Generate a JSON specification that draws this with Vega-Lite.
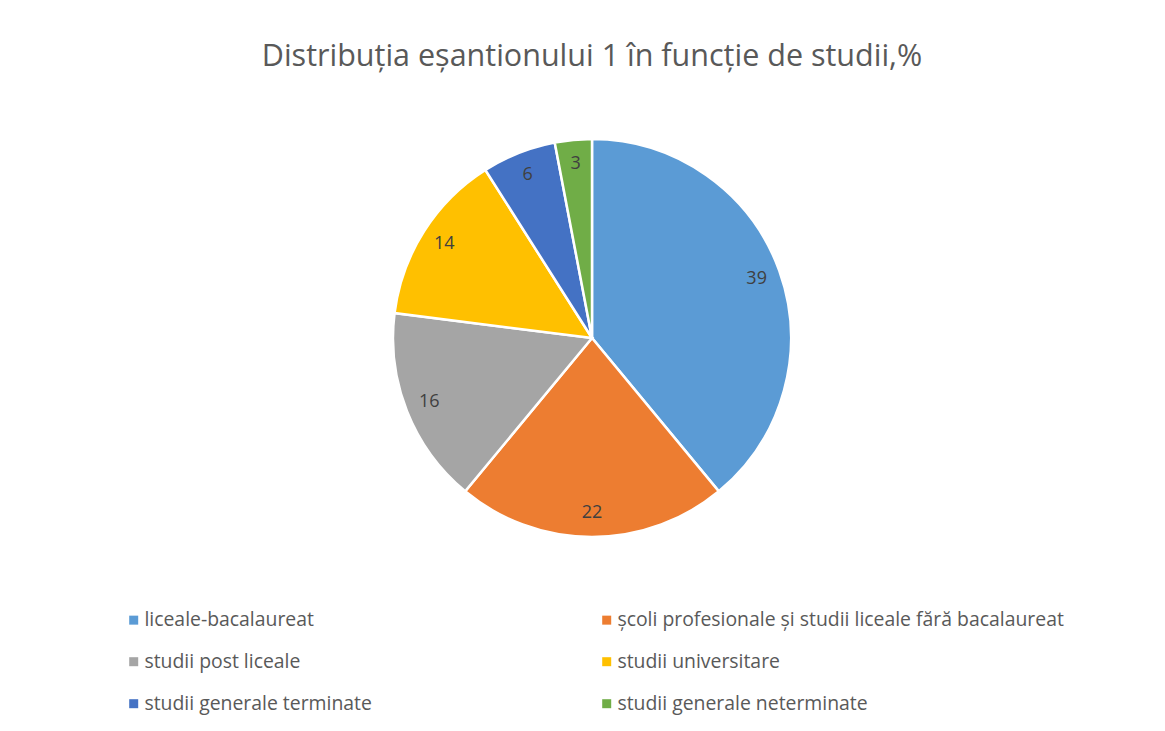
{
  "$schema": "https://vega.github.io/schema/vega-lite/v6.json",
  "width": 1146,
  "height": 676,
  "padding": {"left": 19, "top": 0, "right": 0, "bottom": 20},
  "autosize": {"type": "pad"},
  "background": "white",
  "title": {
    "text": "Distribuția eșantionului 1 în funcție de studii,%",
    "font": "Open Sans",
    "fontSize": 30.5,
    "fontWeight": "normal",
    "color": "#595959",
    "anchor": "middle",
    "offset": -72
  },
  "data": {
    "values": [
      {"category": "liceale-bacalaureat", "value": 39, "order": 1},
      {"category": "școli profesionale și studii liceale fără bacalaureat", "value": 22, "order": 2},
      {"category": "studii post liceale", "value": 16, "order": 3},
      {"category": "studii universitare", "value": 14, "order": 4},
      {"category": "studii generale terminate", "value": 6, "order": 5},
      {"category": "studii generale neterminate", "value": 3, "order": 6}
    ]
  },
  "encoding": {
    "theta": {"field": "value", "type": "quantitative", "stack": true},
    "order": {"field": "order", "type": "quantitative"},
    "color": {
      "field": "category",
      "type": "nominal",
      "scale": {
        "domain": ["liceale-bacalaureat", "școli profesionale și studii liceale fără bacalaureat", "studii post liceale", "studii universitare", "studii generale terminate", "studii generale neterminate"],
        "range": ["#5B9BD5", "#ED7D31", "#A5A5A5", "#FFC000", "#4472C4", "#70AD47"]
      },
      "sort": null,
      "legend": {
        "title": null,
        "orient": "none",
        "direction": "horizontal",
        "legendX": 105,
        "legendY": 610,
        "columns": 2,
        "columnPadding": 225,
        "rowPadding": 21,
        "symbolType": "square",
        "symbolSize": 81,
        "symbolStrokeWidth": 0,
        "labelFont": "Open Sans",
        "labelFontSize": 19.4,
        "labelColor": "#595959",
        "labelOffset": 1,
        "labelLimit": 700
      }
    }
  },
  "layer": [
    {
      "mark": {"type": "arc", "outerRadius": 199, "stroke": "white", "strokeWidth": 2.5}
    },
    {
      "mark": {"type": "text", "radius": 175, "font": "Open Sans", "fontSize": 18, "color": "#404040"},
      "encoding": {
        "text": {"field": "value", "type": "quantitative"},
        "color": {"value": "#404040"}
      }
    }
  ],
  "config": {"view": {"stroke": null}}
}
